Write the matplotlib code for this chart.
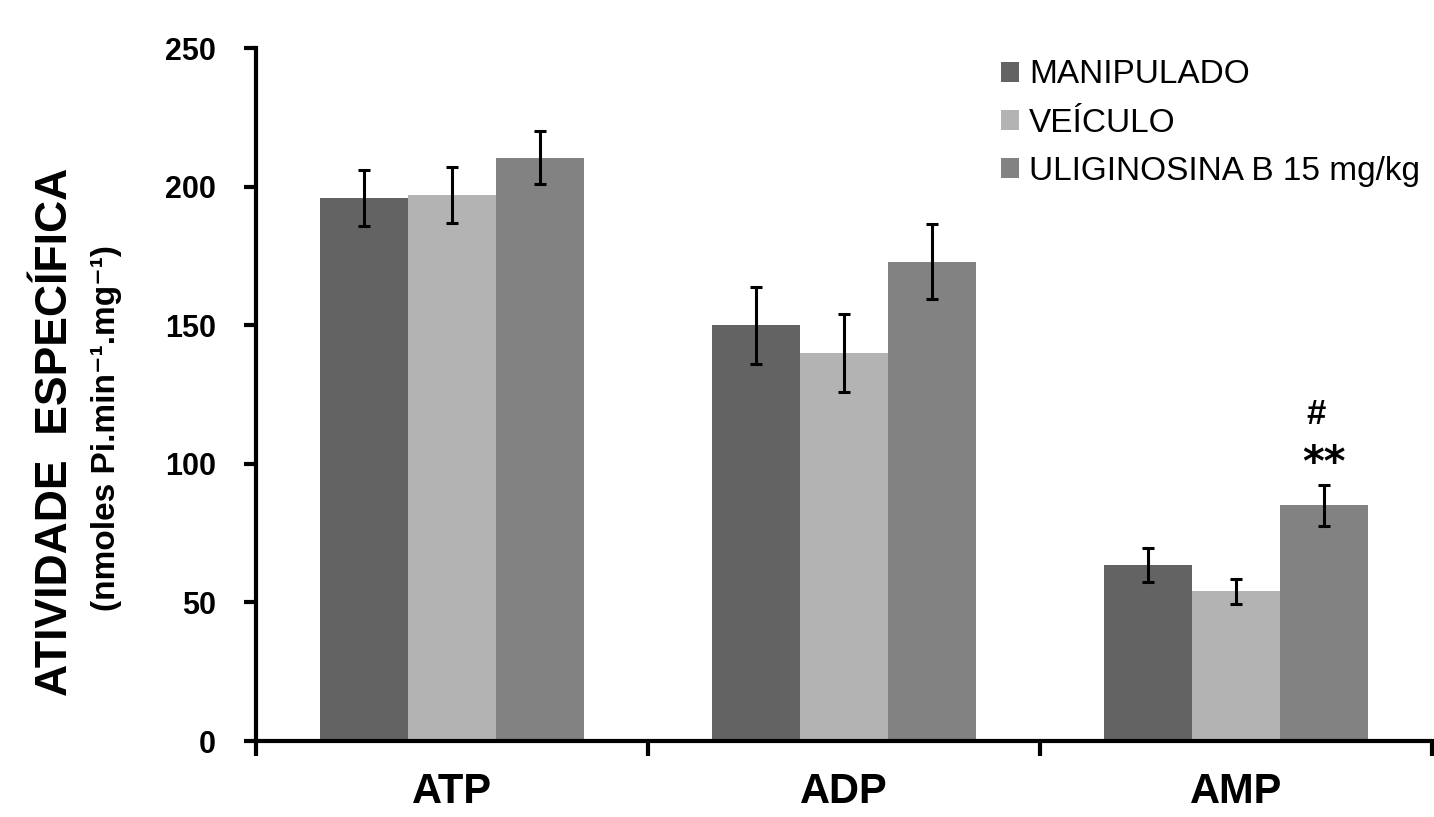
import numpy as np
import matplotlib.pyplot as plt

plt.rcParams["font.family"] = ["Liberation Sans", "DejaVu Sans"]

# Data
categories = ["ATP", "ADP", "AMP"]
groups = ["MANIPULADO", "VEÍCULO", "ULIGINOSINA B 15 mg/kg"]
manipulado = [196, 150, 63.5]
manipulado_err = [10, 14, 6]
veiculo = [197, 140, 54]
veiculo_err = [10, 14, 4.5]
uliginosina = [210.5, 173, 85]
uliginosina_err = [9.5, 13.5, 7.5]

means = [manipulado, veiculo, uliginosina]
errs = [manipulado_err, veiculo_err, uliginosina_err]
colors = ["#636363", "#b3b3b3", "#828282"]

fig = plt.figure(figsize=(14.34, 8.17), dpi=100)
ax = fig.add_axes([0.1785, 0.093, 0.82, 0.848])

x = np.arange(len(categories)) + 0.5
width = 0.225

for i, (vals, err) in enumerate(zip(means, errs)):
    pos = x + (i - 1) * width
    ax.bar(pos, vals, width, color=colors[i], label=groups[i], zorder=2)
    ax.errorbar(pos, vals, yerr=err, fmt="none", ecolor="black",
                elinewidth=2.2, capsize=4, capthick=2.2, zorder=3)

# significance marks over the AMP uliginosina bar
top = uliginosina[2] + uliginosina_err[2]
ax.text(x[2] + width, top + 3, "**", ha="center", va="baseline",
        fontsize=30, fontweight="bold", family="DejaVu Sans")
ax.text(x[2] + width - 0.02, top + 25.5, "#", ha="center", va="center",
        fontsize=25, fontweight="bold")

ax.set_xlim(0, 3)
ax.set_ylim(0, 250)
ax.set_yticks([0, 50, 100, 150, 200, 250])
ax.set_xticks([0, 1, 2, 3])
ax.set_xticklabels([])
ax.set_xticks(x, minor=True)
ax.set_xticklabels(categories, minor=True, fontsize=30, fontweight="bold")
ax.tick_params(axis="x", which="minor", length=0, pad=22)
ax.tick_params(axis="x", which="major", length=11, width=3, direction="out")
ax.tick_params(axis="y", length=9, width=3, direction="out", pad=20,
               labelsize=22)
for lab in ax.get_yticklabels():
    lab.set_fontweight("bold")

for s in ["top", "right"]:
    ax.spines[s].set_visible(False)
for s in ["left", "bottom"]:
    ax.spines[s].set_linewidth(3)

fig.text(0.039, 0.472, "ATIVIDADE  ESPECÍFICA", rotation=90, ha="center",
         va="center", fontsize=32, fontweight="bold")
fig.text(0.074, 0.476, "(nmoles Pi.min⁻¹.mg⁻¹)",
         rotation=90, ha="center", va="center", fontsize=24, fontweight="bold")

ax.legend(loc="upper left", bbox_to_anchor=(0.622, 1.003), frameon=False,
          fontsize=24, handlelength=0.55, handleheight=0.55, handletextpad=0.3,
          labelspacing=0.52, borderaxespad=0)

plt.savefig("out.png", dpi=100)
